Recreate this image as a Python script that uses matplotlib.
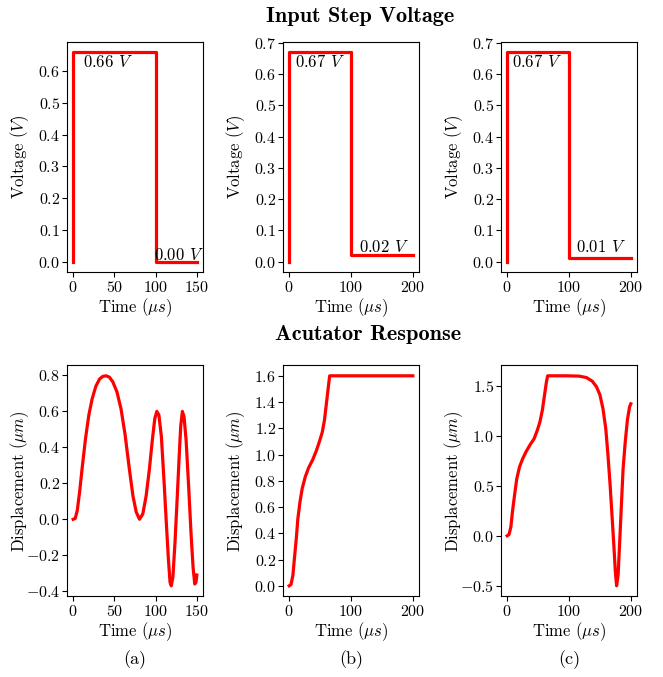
import matplotlib
matplotlib.use("Agg")
import matplotlib.pyplot as plt

plt.rcParams['font.family'] = 'serif'
plt.rcParams['font.serif'] = ['cmr10']
plt.rcParams['mathtext.fontset'] = 'cm'
plt.rcParams['axes.formatter.use_mathtext'] = True
plt.rcParams['font.size'] = 12
plt.rcParams['xtick.labelsize'] = 11.5
plt.rcParams['ytick.labelsize'] = 11.5
plt.rcParams['xtick.major.pad'] = 2
plt.rcParams['ytick.major.pad'] = 1.5

# input step voltages (time in us, volts)
t_step_a = [0, 0, 100, 100, 150]
v_step_a = [0.0, 0.66, 0.66, 0.00, 0.00]
t_step_b = [0, 0, 100, 100, 200]
v_step_b = [0.0, 0.67, 0.67, 0.02, 0.02]
t_step_c = [0, 0, 100, 100, 200]
v_step_c = [0.0, 0.67, 0.67, 0.01, 0.01]

# actuator displacement responses (time in us, displacement in um)
t_resp_a = [0, 2.5, 5, 8, 11, 15, 19, 23, 27.5, 32, 36, 40, 44, 48, 53, 58, 63, 68,
            72.5, 76.5, 80.5, 84.5, 88.5, 92.5, 96, 99, 101.5, 104, 107, 110.5, 113,
            115.5, 117.5, 119, 121, 123.5, 126, 128.5, 130.5, 132.5, 134.5, 137, 140,
            143, 145.5, 147.5, 149, 150]
d_resp_a = [0, 0.005, 0.05, 0.16, 0.29, 0.45, 0.58, 0.67, 0.74, 0.78, 0.795, 0.798,
            0.79, 0.765, 0.71, 0.615, 0.47, 0.285, 0.13, 0.04, 0.0, 0.03, 0.13, 0.28,
            0.44, 0.56, 0.60, 0.58, 0.46, 0.19, -0.02, -0.22, -0.35, -0.37, -0.32,
            -0.13, 0.10, 0.34, 0.52, 0.60, 0.57, 0.44, 0.19, -0.08, -0.27, -0.36,
            -0.35, -0.31]

t_resp_b = [0, 3, 6, 8.5, 11.5, 14, 17.5, 21, 26, 31.5, 38, 44, 49, 53.5, 57, 60,
            62.7, 65.5, 200]
d_resp_b = [0, 0.01, 0.08, 0.21, 0.36, 0.51, 0.64, 0.74, 0.83, 0.90, 0.96, 1.03,
            1.10, 1.17, 1.26, 1.38, 1.49, 1.60, 1.60]

t_resp_c = [0, 3, 6, 8.5, 12, 15.5, 20, 25, 30.5, 37, 43.5, 49, 53, 57, 60, 63.5,
            65.5, 95, 116, 128, 137.5, 144.5, 150, 155, 159.5, 163, 166.5, 169.5,
            172.5, 175, 177, 179.5, 182, 185, 187.5, 191, 194.5, 198, 200]
d_resp_c = [0, 0.013, 0.09, 0.24, 0.41, 0.57, 0.69, 0.77, 0.84, 0.91, 0.97, 1.06,
            1.14, 1.26, 1.39, 1.54, 1.60, 1.60, 1.597, 1.583, 1.547, 1.49, 1.41, 1.27,
            1.07, 0.81, 0.51, 0.21, -0.09, -0.36, -0.50, -0.39, -0.06, 0.34, 0.67,
            0.94, 1.16, 1.29, 1.32]

# tick positions for each panel
xticks = [[0, 50, 100, 150], [0, 100, 200], [0, 100, 200]]
yticks_step = [[0.0, 0.1, 0.2, 0.3, 0.4, 0.5, 0.6],
               [0.0, 0.1, 0.2, 0.3, 0.4, 0.5, 0.6, 0.7],
               [0.0, 0.1, 0.2, 0.3, 0.4, 0.5, 0.6, 0.7]]
yticks_resp = [[-0.4, -0.2, 0.0, 0.2, 0.4, 0.6, 0.8],
               [0.0, 0.2, 0.4, 0.6, 0.8, 1.0, 1.2, 1.4, 1.6],
               [-0.5, 0.0, 0.5, 1.0, 1.5]]

steps = [(t_step_a, v_step_a), (t_step_b, v_step_b), (t_step_c, v_step_c)]
responses = [(t_resp_a, d_resp_a), (t_resp_b, d_resp_b), (t_resp_c, d_resp_c)]
captions = ['(a)', '(b)', '(c)']
# where the high / low voltage labels sit (x of high label, x and y of low label)
high_x = [12, 10, 8]
low_xy = [(98, 0.006), (113, 0.031), (112, 0.029)]

W, H = 663, 677
fig = plt.figure(figsize=(W / 100, H / 100), dpi=100)

lefts = [67, 283, 501]
ax_w = 136
ylabel_x = -0.265

for i in range(3):
    x0 = lefts[i] / W
    ax_top = fig.add_axes([x0, 1 - 272 / H, ax_w / W, 230.3 / H])
    t, v = steps[i]
    ax_top.plot(t, v, color='red', lw=2.3)
    ax_top.text(high_x[i], v[1] - 0.048, f'{v[1]:.2f} $V$')
    ax_top.text(low_xy[i][0], low_xy[i][1], f'{v[3]:.2f} $V$')
    ax_top.set_xticks(xticks[i])
    ax_top.set_yticks(yticks_step[i])
    ax_top.set_xlabel(r'Time ($\mu s$)', labelpad=1)
    ax_top.set_ylabel(r'Voltage ($V$)')
    ax_top.yaxis.set_label_coords(ylabel_x, 0.5)

    ax_bot = fig.add_axes([x0, 1 - 596.3 / H, ax_w / W, 231 / H])
    t, d = responses[i]
    ax_bot.plot(t, d, color='red', lw=2.3)
    ax_bot.set_xticks(xticks[i])
    ax_bot.set_yticks(yticks_resp[i])
    ax_bot.set_xlabel(r'Time ($\mu s$)', labelpad=1)
    ax_bot.set_ylabel(r'Displacement ($\mu m$)')
    ax_bot.yaxis.set_label_coords(ylabel_x, 0.5)

    fig.text((lefts[i] + ax_w / 2) / W, 1 - 660 / H, captions[i],
             ha='center', va='center', fontsize=13)

fig.text(360 / W, 1 - 16 / H, 'Input Step Voltage', ha='center', va='center',
         fontsize=16, fontfamily='cmb10')
fig.text(368 / W, 1 - 335 / H, 'Acutator Response', ha='center', va='center',
         fontsize=16, fontfamily='cmb10')

fig.savefig('out.png', dpi=100)
